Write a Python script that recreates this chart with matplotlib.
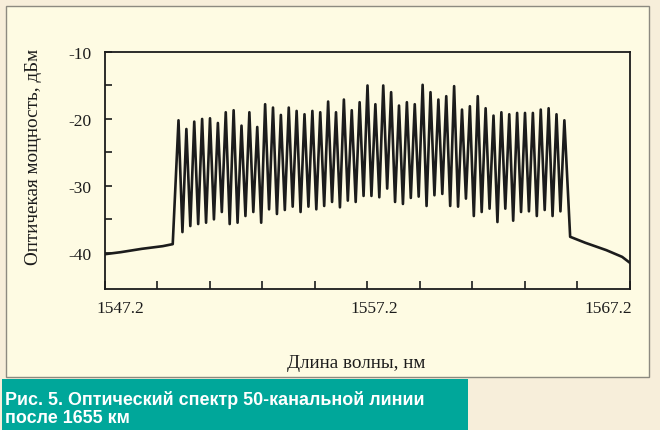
import numpy as np
import matplotlib.pyplot as plt
import matplotlib.transforms as mtransforms
from matplotlib.patches import Rectangle

plt.rcParams['axes.unicode_minus'] = False

# channel grid of the 50-channel line
first_channel_nm = 1550.0
channel_step_nm = 0.30

# peak power of each channel, dBm
peak_dbm = [-20.2, -21.5, -20.4, -20.0, -19.9, -20.6, -19.0, -18.7, -21.0, -19.0,
            -21.2, -17.8, -18.3, -19.4, -18.3, -18.8, -19.3, -18.8, -19.0, -17.4,
            -19.0, -17.1, -18.7, -17.5, -15.0, -17.8, -15.0, -16.0, -18.0, -17.5,
            -17.8, -14.9, -16.0, -17.1, -16.6, -15.1, -18.6, -18.1, -16.6, -18.4,
            -19.5, -19.0, -19.3, -19.1, -19.1, -19.1, -18.6, -18.4, -19.3, -20.2]

# minima between neighbouring channels, dBm
trough_dbm = [-36.9, -36.0, -35.7, -35.5, -35.0, -33.9, -35.7, -35.5, -34.5, -33.9,
              -35.5, -33.5, -34.2, -33.6, -33.1, -33.9, -33.1, -33.5, -33.0, -32.4,
              -33.2, -32.2, -32.4, -31.5, -31.5, -31.7, -30.4, -32.4, -32.7, -31.8,
              -31.6, -33.0, -31.4, -31.2, -33.0, -33.1, -31.9, -34.5, -33.9, -33.4,
              -35.4, -33.4, -35.2, -33.9, -33.8, -34.5, -33.6, -34.5, -33.8]

# noise floor outside the band
left_tail_nm = [1547.2, 1547.8, 1548.6, 1549.4, 1549.78]
left_tail_dbm = [-40.2, -39.9, -39.4, -39.0, -38.7]
right_tail_nm = [1564.92, 1565.5, 1566.3, 1566.9, 1567.2]
right_tail_dbm = [-37.6, -38.5, -39.6, -40.6, -41.5]

xticks_major = [1547.2, 1557.2, 1567.2]
xlabels = ['1547.2', '1557.2', '1567.2']

# build the trace: tail, peak / trough alternating, tail
peak_nm = first_channel_nm + channel_step_nm * np.arange(len(peak_dbm))
trough_nm = (peak_nm[:-1] + peak_nm[1:]) / 2
wl = list(left_tail_nm)
pw = list(left_tail_dbm)
for i in range(len(peak_dbm)):
    wl.append(peak_nm[i]); pw.append(peak_dbm[i])
    if i < len(trough_dbm):
        wl.append(trough_nm[i]); pw.append(trough_dbm[i])
wl += right_tail_nm
pw += right_tail_dbm

W, H = 660, 431
fig = plt.figure(figsize=(6.6, 4.31), dpi=100)
fig.patch.set_facecolor('#F7EEDA')

# inner panel
fig.patches.append(Rectangle((6 / W, 1 - 378 / H), 643 / W, 371 / H, transform=fig.transFigure,
                             facecolor='#FEFBE3', edgecolor='#8C8A80', lw=1.0, zorder=-3))
# caption box
fig.patches.append(Rectangle((2 / W, 0), 466 / W, 51 / H, transform=fig.transFigure,
                             facecolor='#00A79A', edgecolor='none', zorder=-2))
fig.text(5 / W, 1 - 405 / H, 'Рис. 5. Оптический спектр 50-канальной линии', color='white',
         fontsize=12.9, fontweight='bold', family='Liberation Sans', va='baseline')
fig.text(5 / W, 1 - 423 / H, 'после 1655 км', color='white',
         fontsize=12.9, fontweight='bold', family='Liberation Sans', va='baseline')

ax = fig.add_axes([105 / W, 1 - 290 / H, 525 / W, 237 / H])
ax.set_zorder(2)
ax.set_facecolor('none')
ax.plot(wl, pw, color='#1C1C1C', lw=1.9, solid_joinstyle='round')

ax.set_xlim(1547.2, 1567.2)
ax.set_ylim(-45.4, -10)
ax.set_xticks(xticks_major)
ax.set_xticklabels(xlabels)
ax.set_xticks(np.arange(1549.2, 1566.0, 2.0), minor=True)
ax.set_yticks([-10, -20, -30, -40])
ax.set_yticks([-15, -25, -35], minor=True)
ax.tick_params(which='both', direction='in', top=False, right=False, length=6, width=1.2,
               colors='#1C1C1C', labelsize=12.5, labelfontfamily='Liberation Serif')
ax.tick_params(axis='y', which='both', length=5, pad=10)
ax.tick_params(axis='x', which='both', pad=8)
for s in ax.spines.values():
    s.set_linewidth(1.3)
    s.set_color('#1C1C1C')

# shift the end labels inward like the original
shifts = [15, 7, -22]
for lab, dx in zip(ax.get_xticklabels(), shifts):
    lab.set_transform(lab.get_transform() + mtransforms.ScaledTranslation(dx / 100, 0, fig.dpi_scale_trans))

ax.set_xlabel('Длина волны, нм', fontsize=13.8, family='Liberation Serif', color='#1C1C1C')
ax.xaxis.set_label_coords((356 - 105) / 525, (290 - 355) / 237)
ax.set_ylabel('Оптичекая мощность, дБм', fontsize=13.8, family='Liberation Serif', color='#1C1C1C')
ax.yaxis.set_label_coords((42 - 105) / 525, (290 - 157) / 237)

fig.savefig('out.png', dpi=100, facecolor=fig.get_facecolor())
